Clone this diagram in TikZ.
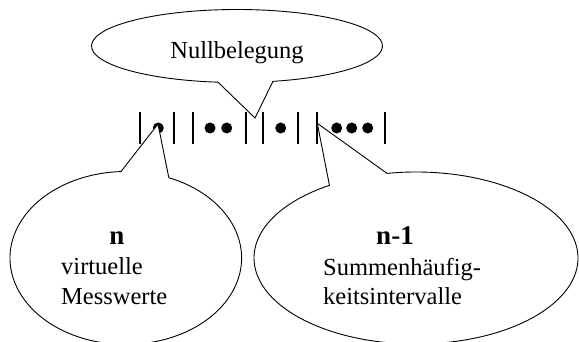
\documentclass[tikz,border=0pt]{standalone}
\usepackage{fontspec}
\setmainfont{Liberation Serif}
\tikzset{
  callout/.style={draw=black, fill=white, line width=0.9pt, line join=miter},
  bar/.style={line width=2.2pt},
  dotmark/.style={fill=black},
  txt/.style={inner sep=0pt, font=\fontsize{24.5}{28}\selectfont},
  btxt/.style={inner sep=0pt, font=\fontsize{27}{30}\selectfont\bfseries},
}
\begin{document}
\begin{tikzpicture}[x=1pt,y=-1pt]
\useasboundingbox (0,0) rectangle (579,342);
% bars
\foreach \bx in {140,174,192.7,246,263.3,298.3,317.3,385}
  \draw[bar] (\bx,112) -- (\bx,144);
% dots
\foreach \dx in {158.3,210,226.7,280.7,336.7,351.7,367.7}
  \fill[dotmark] (\dx,128) circle[radius=5.5];
% tips
\coordinate (tipTop) at (255,118);
\coordinate (tipL) at (158,124);
\coordinate (tipR) at (317.3,123.3);
% top callout
\draw[callout] (tipTop) -- ({237+145.5*cos(97.5)},{46+36.5*sin(97.5)})
  arc[start angle=97.5, end angle=435.7, x radius=145.5, y radius=36.5] -- cycle;
% left callout
\draw[callout] (tipL) -- ({125.8+115.8*cos(291.8)},{258+86.5*sin(291.8)})
  arc[start angle=291.8, end angle=627.6, x radius=115.8, y radius=86.5] -- cycle;
% right callout
\draw[callout] (tipR) -- ({416+162*cos(259.7)},{258+86*sin(259.7)})
  arc[start angle=259.7, end angle=597.7, x radius=162, y radius=86] -- cycle;
% texts
\node[txt, anchor=base] (null) at (237,59) {Nullbelegung};
\node[btxt, anchor=base] (n) at (117,245) {n};
\node[txt, anchor=base west] (v1) at (61,275) {virtuelle};
\node[txt, anchor=base west] (v2) at (61,304) {Messwerte};
\node[btxt, anchor=base] (n1) at (395,245) {n-1};
\node[txt, anchor=base west] (s1) at (323,276) {Summenhäufig-};
\node[txt, anchor=base west] (s2) at (323,305) {keitsintervalle};
\end{tikzpicture}
\end{document}
